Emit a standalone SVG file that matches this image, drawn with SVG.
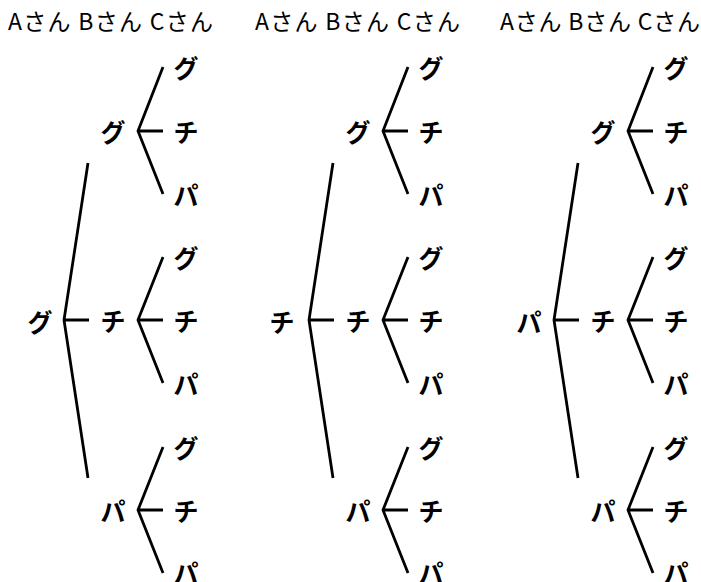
<svg xmlns="http://www.w3.org/2000/svg" width="701" height="582" viewBox="0 0 701 582">
<style>
.h{font-family:"Noto Sans CJK JP","Liberation Sans",sans-serif;font-size:23px;fill:#000}
.k{font-family:"Noto Sans CJK JP",sans-serif;font-size:25px;font-weight:bold;fill:#000;text-anchor:middle;dominant-baseline:central}
.c{fill:none;stroke:#000;stroke-width:2.8;stroke-linejoin:miter}
</style>
<rect width="701" height="582" fill="#fff"/>
<g id="headers">
<g id="header1"><text class="h" x="8" y="30" textLength="205" lengthAdjust="spacing">Aさん Bさん Cさん</text></g>
<g id="header2"><text class="h" x="255" y="30" textLength="205" lengthAdjust="spacing">Aさん Bさん Cさん</text></g>
<g id="header3"><text class="h" x="500" y="30" textLength="200" lengthAdjust="spacing">Aさん Bさん Cさん</text></g>
</g>
<g id="connectors">
<path class="c" d="M88,163 L64,320 L88,478 M64,320 H89"/>
<path class="c" d="M163,67 L138,131 L163,194 M138,131 H163"/>
<path class="c" d="M163,257 L138,320 L163,383 M138,320 H163"/>
<path class="c" d="M163,447 L138,510 L163,573 M138,510 H163"/>
<path class="c" d="M333,163 L309,320 L333,478 M309,320 H334"/>
<path class="c" d="M408,67 L383,131 L408,194 M383,131 H408"/>
<path class="c" d="M408,257 L383,320 L408,383 M383,320 H408"/>
<path class="c" d="M408,447 L383,510 L408,573 M383,510 H408"/>
<path class="c" d="M578,163 L554,320 L578,478 M554,320 H579"/>
<path class="c" d="M653,67 L628,131 L653,194 M628,131 H653"/>
<path class="c" d="M653,257 L628,320 L653,383 M628,320 H653"/>
<path class="c" d="M653,447 L628,510 L653,573 M628,510 H653"/>
</g>
<g id="tree1">
<g id="t1-root"><text class="k" x="40" y="321">グ</text></g>
<g id="t1-g"><text class="k" x="113" y="131">グ</text></g>
<g id="t1-c"><text class="k" x="113" y="320">チ</text></g>
<g id="t1-p"><text class="k" x="113" y="510">パ</text></g>
<g id="t1-gg"><text class="k" x="186" y="67">グ</text></g>
<g id="t1-gc"><text class="k" x="186" y="131">チ</text></g>
<g id="t1-gp"><text class="k" x="186" y="194">パ</text></g>
<g id="t1-cg"><text class="k" x="186" y="257">グ</text></g>
<g id="t1-cc"><text class="k" x="186" y="320">チ</text></g>
<g id="t1-cp"><text class="k" x="186" y="383">パ</text></g>
<g id="t1-pg"><text class="k" x="186" y="447">グ</text></g>
<g id="t1-pc"><text class="k" x="186" y="510">チ</text></g>
<g id="t1-pp"><text class="k" x="186" y="572">パ</text></g>
</g>
<g id="tree2">
<g id="t2-root"><text class="k" x="282" y="321">チ</text></g>
<g id="t2-g"><text class="k" x="358" y="131">グ</text></g>
<g id="t2-c"><text class="k" x="358" y="320">チ</text></g>
<g id="t2-p"><text class="k" x="358" y="510">パ</text></g>
<g id="t2-gg"><text class="k" x="431" y="67">グ</text></g>
<g id="t2-gc"><text class="k" x="431" y="131">チ</text></g>
<g id="t2-gp"><text class="k" x="431" y="194">パ</text></g>
<g id="t2-cg"><text class="k" x="431" y="257">グ</text></g>
<g id="t2-cc"><text class="k" x="431" y="320">チ</text></g>
<g id="t2-cp"><text class="k" x="431" y="383">パ</text></g>
<g id="t2-pg"><text class="k" x="431" y="447">グ</text></g>
<g id="t2-pc"><text class="k" x="431" y="510">チ</text></g>
<g id="t2-pp"><text class="k" x="431" y="572">パ</text></g>
</g>
<g id="tree3">
<g id="t3-root"><text class="k" x="529" y="321">パ</text></g>
<g id="t3-g"><text class="k" x="603" y="131">グ</text></g>
<g id="t3-c"><text class="k" x="603" y="320">チ</text></g>
<g id="t3-p"><text class="k" x="603" y="510">パ</text></g>
<g id="t3-gg"><text class="k" x="676" y="67">グ</text></g>
<g id="t3-gc"><text class="k" x="676" y="131">チ</text></g>
<g id="t3-gp"><text class="k" x="676" y="194">パ</text></g>
<g id="t3-cg"><text class="k" x="676" y="257">グ</text></g>
<g id="t3-cc"><text class="k" x="676" y="320">チ</text></g>
<g id="t3-cp"><text class="k" x="676" y="383">パ</text></g>
<g id="t3-pg"><text class="k" x="676" y="447">グ</text></g>
<g id="t3-pc"><text class="k" x="676" y="510">チ</text></g>
<g id="t3-pp"><text class="k" x="676" y="572">パ</text></g>
</g>
</svg>
